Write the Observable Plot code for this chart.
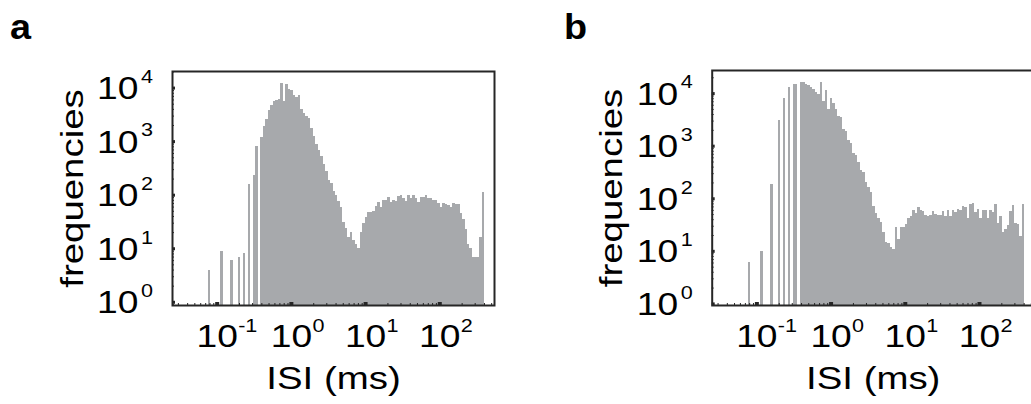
<!DOCTYPE html>
<html><head><meta charset="utf-8">
<script src="https://cdn.jsdelivr.net/npm/d3@7"></script>
<script src="https://cdn.jsdelivr.net/npm/@observablehq/plot@0.6"></script>
<style>
html,body{margin:0;padding:0;background:#fff;overflow:hidden;}
#wrap{position:relative;width:1031px;height:404px;overflow:hidden;font-family:"Liberation Sans",Arial,sans-serif;}
.panel{position:absolute;top:0;}
.letter{position:absolute;font-weight:bold;font-size:35px;line-height:1;color:#000;transform-origin:0 0;transform:scaleX(1.08);}
</style></head><body>
<div id="wrap"></div>
<script>
// ---- data ----
const panelLetters = ["a", "b"];
const xLabel = "ISI (ms)";
const yLabel = "frequencies";
const xTickValues = [0.1, 1, 10, 100];
const xTickExponents = ["-1", "0", "1", "2"];
const yTickValues = [1, 10, 100, 1000, 10000];
const yTickExponents = ["0", "1", "2", "3", "4"];
const xDomain = [0.025, 546];
const yDomainA = [0.871, 20400];
const yDomainB = [0.933, 27500];
// histogram bins: log10(ISI) start and width
const binStartLog = -1.117;
const binWidthLog = 0.03356;
const countsA = [
  4,0,0,0,0,9,0,0,0,6,0,0,7,0,8,0,155,0,230,810,0,
  1175,1905,2570,3800,4680,5500,5750,6030,12300,5620,
  11750,9550,9120,7410,6610,7240,3980,3390,2950,2750,
  1780,1260,890,690,525,370,280,190,162,117,
  98,76,59,31,24,16,20,14,12,10,
  20,30,39,48,48,50,62,72,60,79,
  79,91,74,79,76,95,98,87,76,98,
  85,98,87,74,91,91,98,87,87,81,
  78,69,59,69,68,63,58,69,68,68,
  46,35,23,12,10,7,7,7,16,110
];
const countsB = [
  6,0,0,0,0,10,0,0,0,186,0,0,3090,0,7940,0,13200,0,14800,15100,0,
  16600,16600,15100,14100,13200,12000,10700,9550,16600,7080,
  11500,4900,7940,6460,4900,3720,3550,2040,1905,1290,
  1120,725,660,479,347,309,204,166,132,71,
  52,43,35,23,15,14,12,11,28,17,
  28,28,32,43,45,60,52,69,60,58,
  49,45,47,56,51,49,49,56,
  46,60,45,60,54,63,59,72,69,43,79,81,54,63,43,60,59,43,59,55,78,34,46,23,26,31,58,74,34,32,19,78
];

// ---- styling ----
const barColor = "#a7a9ac";
const axisColor = "#262626";
const fontFamily = '"Liberation Sans", Arial, sans-serif';
const textStretch = 1.2;

function bins(counts) {
  return counts.map((c, i) => ({
    x1: 10 ** (binStartLog + i * binWidthLog),
    x2: 10 ** (binStartLog + (i + 1) * binWidthLog),
    count: c
  })).filter(d => d.count > 0);
}
function minorTicks(domain) {
  const out = [];
  for (let e = -3; e <= 5; e++) for (let m = 2; m <= 9; m++) {
    const v = m * 10 ** e;
    if (v > domain[0] && v < domain[1]) out.push(v);
  }
  return out;
}
const xTicks = xTickValues.map((v, i) => ({v, e: xTickExponents[i]}));
const yTicks = yTickValues.map((v, i) => ({v, e: yTickExponents[i]}));

function panel(counts, yDomain, left, marginLeft, marginTop, frameH) {
  const plotW = 322;
  const marginRight = 30;
  const chart = Plot.plot({
    width: marginLeft + plotW + marginRight,
    height: 404,
    marginLeft, marginRight, marginTop,
    marginBottom: 404 - marginTop - frameH,
    x: {type: "log", domain: xDomain, axis: null},
    y: {type: "log", domain: yDomain, axis: null},
    style: {fontFamily, background: "transparent", overflow: "visible"},
    marks: [
      Plot.rect(bins(counts), {x1: "x1", x2: "x2", y1: yDomain[0], y2: "count", fill: barColor, shapeRendering: "crispEdges"}),
      Plot.tickX(minorTicks(xDomain), {x: d => d, stroke: axisColor, strokeWidth: 1, insetTop: frameH - 2}),
      Plot.tickX(xTicks, {x: "v", stroke: axisColor, strokeWidth: 4, insetTop: frameH - 3}),
      Plot.tickY(minorTicks(yDomain), {y: d => d, stroke: axisColor, strokeWidth: 1, insetRight: plotW - 2}),
      Plot.tickY(yTicks, {y: "v", stroke: axisColor, strokeWidth: 3, insetRight: plotW - 3}),
      Plot.frame({stroke: axisColor, strokeWidth: 2}),
      Plot.text(xTicks, {x: "v", frameAnchor: "bottom", text: () => "10", textAnchor: "middle", lineAnchor: "middle", dy: 32, fontSize: 31, fill: "#000"}),
      Plot.text(xTicks, {x: "v", frameAnchor: "bottom", text: "e", textAnchor: "start", lineAnchor: "middle", dx: 21, dy: 21, fontSize: 18, fill: "#000"}),
      Plot.text(yTicks, {y: "v", frameAnchor: "left", text: () => "10", textAnchor: "end", lineAnchor: "middle", dx: -34, dy: 1, fontSize: 31, fill: "#000"}),
      Plot.text(yTicks, {y: "v", frameAnchor: "left", text: "e", textAnchor: "start", lineAnchor: "middle", dx: -31.5, dy: -11, fontSize: 18, fill: "#000"}),
      Plot.text([yLabel], {frameAnchor: "left", text: d => d, textAnchor: "middle", lineAnchor: "middle", rotate: -90, dx: -100, fontSize: 32, fill: "#000"}),
      Plot.text([xLabel], {frameAnchor: "bottom", text: d => d, textAnchor: "middle", lineAnchor: "middle", dy: 73.5, fontSize: 32, fill: "#000"})
    ]
  });
  // widen the glyphs along their reading direction, as in the reference typeface
  chart.querySelectorAll("text").forEach(t => {
    const tr = t.getAttribute("transform") || "";
    t.setAttribute("transform", tr + ` scale(${textStretch},1)`);
  });
  chart.classList.add("panel");
  chart.style.left = left + "px";
  return chart;
}

const wrap = document.getElementById("wrap");
wrap.appendChild(panel(countsA, yDomainA, 0, 172, 71, 234));
wrap.appendChild(panel(countsB, yDomainB, 540, 171.7, 70, 235));
const letterPos = [[10, 9], [564, 9]];
panelLetters.forEach((t, i) => {
  const d = document.createElement("div");
  d.className = "letter";
  d.textContent = t;
  d.style.left = letterPos[i][0] + "px";
  d.style.top = letterPos[i][1] + "px";
  wrap.appendChild(d);
});
</script>
</body></html>
